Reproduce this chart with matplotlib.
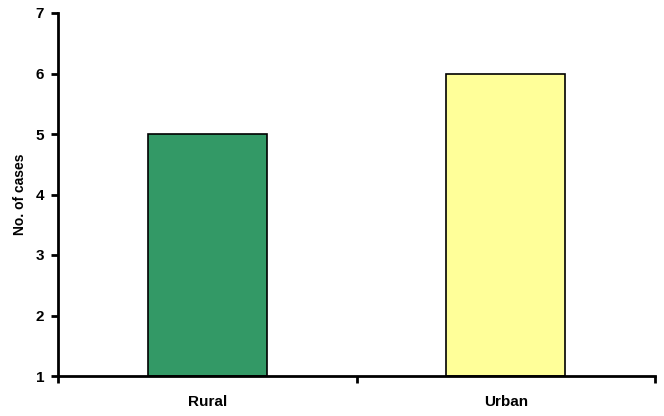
import numpy as np
import matplotlib.pyplot as plt

categories = ['Rural', 'Urban']
cases = [5, 6]
bar_colors = ['#339966', '#FFFF99']

fig = plt.figure(figsize=(6.64, 4.16), dpi=100)
ax = fig.add_axes([58 / 664, 1 - 376 / 416, (655 - 58) / 664, (376 - 13) / 416])

x = np.arange(len(categories))
ax.bar(x, np.array(cases) - 1, bottom=1, width=0.4, color=bar_colors,
       edgecolor='black', linewidth=1.2)

ax.set_xlim(-0.5, 1.5)
ax.set_ylim(1, 7)
ax.set_yticks(range(1, 8))

ax.set_xticks(x)
ax.set_xticklabels(categories, fontsize=11, fontweight='bold', family='Liberation Sans')
ax.tick_params(axis='x', which='major', length=0, pad=14)
ax.set_xticks([-0.5, 0.5, 1.5], minor=True)
ax.tick_params(axis='x', which='minor', length=5, width=2, direction='out')

ax.tick_params(axis='y', length=5, width=2, direction='out', pad=5)
for lbl in ax.get_yticklabels():
    lbl.set_fontsize(11)
    lbl.set_fontweight('bold')
    lbl.set_family('Liberation Sans')

ax.set_ylabel('No. of cases', fontsize=10, fontweight='bold', family='Liberation Sans', labelpad=6)

for side in ['top', 'right']:
    ax.spines[side].set_visible(False)
for side in ['left', 'bottom']:
    ax.spines[side].set_linewidth(2)

fig.savefig('out.png', dpi=100)
